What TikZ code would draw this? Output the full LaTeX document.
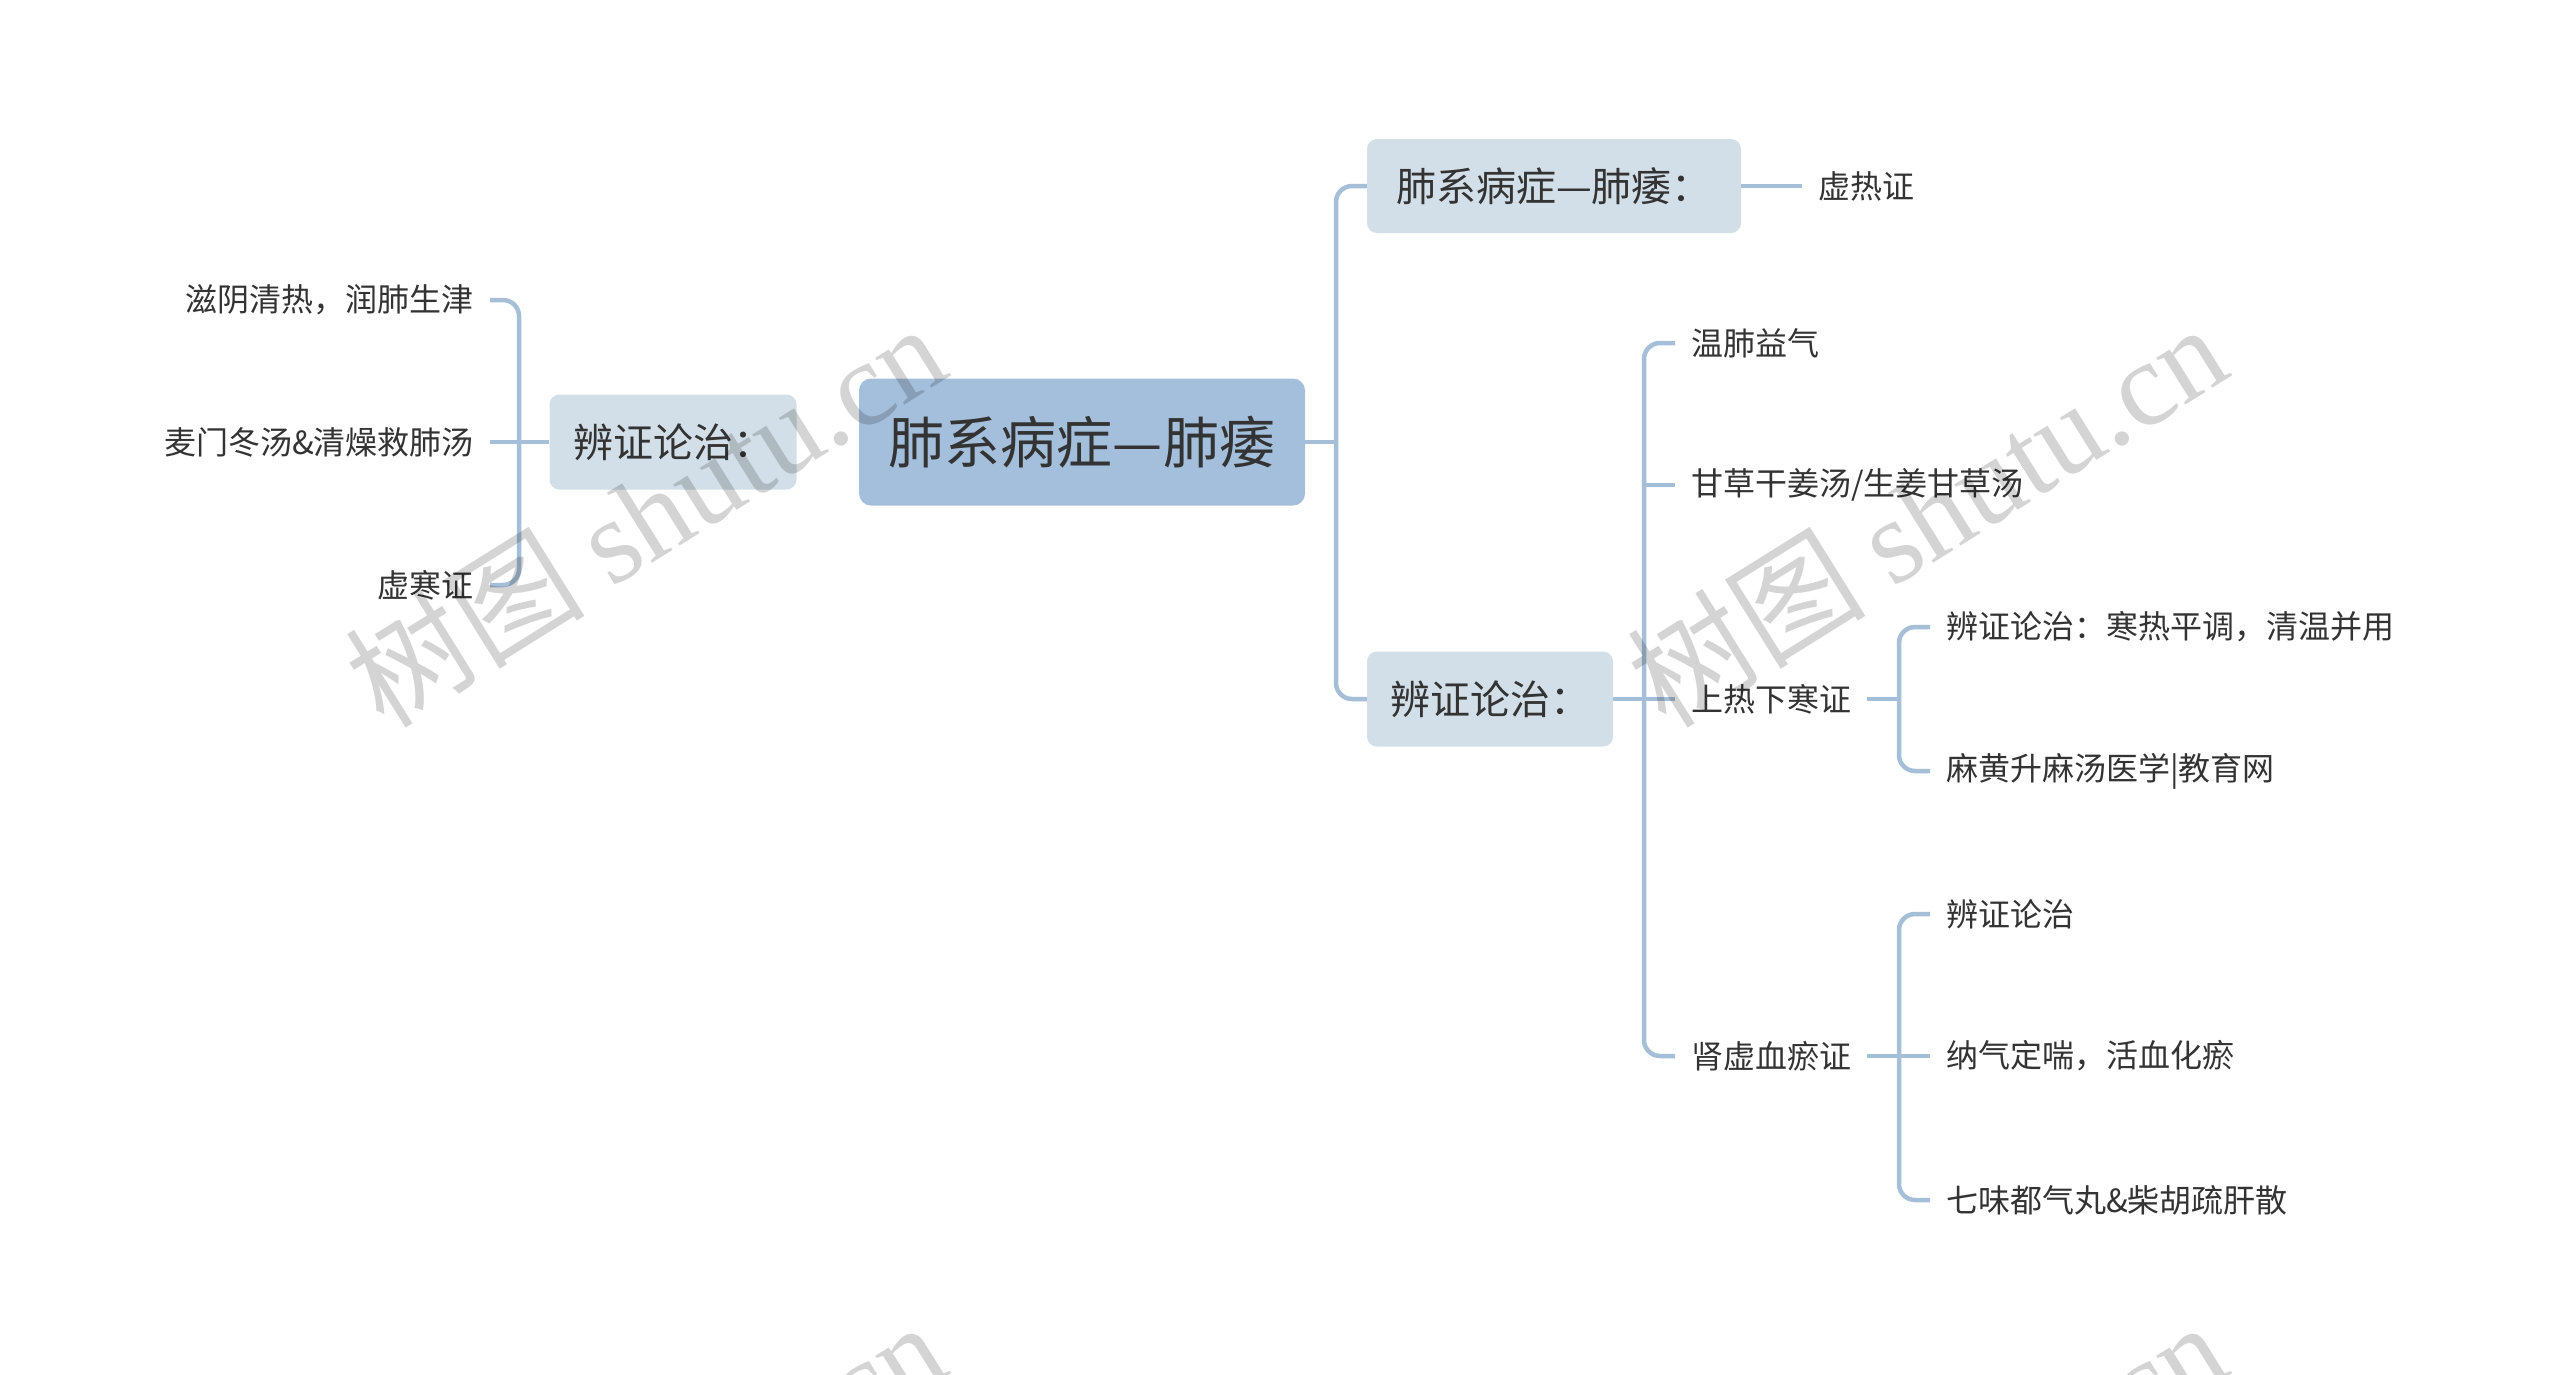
\documentclass[tikz,border=0pt]{standalone}
\usepackage{fontspec}
\setmainfont{Noto Sans CJK SC}
\newfontfamily\wmlatin{Liberation Serif}
\definecolor{linec}{HTML}{A6BFD8}
\definecolor{rootc}{HTML}{A3BFDB}
\definecolor{subc}{HTML}{D3DFE8}
\definecolor{txt}{HTML}{333333}
\begin{document}
\begin{tikzpicture}[x=1pt,y=-1pt,
 conn/.style={draw=linec,line width=4.5pt,rounded corners=16pt},
 rootbox/.style={fill=rootc,rounded corners=12pt,minimum width=446pt,minimum height=127pt,text=txt,font=\fontsize{56}{60}\selectfont,inner sep=0pt},
 subbox/.style={fill=subc,rounded corners=10pt,minimum height=95pt,text=txt,font=\fontsize{40}{44}\selectfont,inner sep=0pt},
 leaf/.style={text=txt,font=\fontsize{32}{36}\selectfont,inner xsep=16pt,inner ysep=4pt},
 wm/.style={rotate=32,text=black,text opacity=0.17,font=\fontsize{120}{125}\selectfont}]
\useasboundingbox (0,0) rectangle (2560,1374);
\fill[white] (0,0) rectangle (2560,1374);

% nodes
\node[rootbox] (root) at (1082,442) {肺系病症—肺痿};
\node[subbox,minimum width=247pt] (L1) at (673,442) {辨证论治：};
\node[subbox,minimum width=374pt,minimum height=94pt] (R1) at (1554,186) {肺系病症—肺痿：};
\node[subbox,minimum width=246pt] (R2) at (1490,699) {辨证论治：};

\node[leaf,anchor=east] (l1) at (490,300) {滋阴清热，润肺生津};
\node[leaf,anchor=east] (l2) at (490,442) {麦门冬汤\&清燥救肺汤};
\node[leaf,anchor=east] (l3) at (490,585) {虚寒证};

\node[leaf,anchor=west] (r1a) at (1802,186) {虚热证};

\node[leaf,anchor=west] (c1) at (1675,343) {温肺益气};
\node[leaf,anchor=west] (c2) at (1675,485) {甘草干姜汤/生姜甘草汤};
\node[leaf,anchor=west] (c3) at (1675,699) {上热下寒证};
\node[leaf,anchor=west] (c4) at (1675,1056) {肾虚血瘀证};

\node[leaf,anchor=west] (d1) at (1930,627) {辨证论治：寒热平调，清温并用};
\node[leaf,anchor=west] (d2) at (1930,771) {麻黄升麻汤医学|教育网};

\node[leaf,anchor=west] (e1) at (1930,914) {辨证论治};
\node[leaf,anchor=west] (e2) at (1930,1056) {纳气定喘，活血化瘀};
\node[leaf,anchor=west] (e3) at (1930,1200) {七味都气丸\&柴胡疏肝散};

% junction coordinates
\coordinate (b0) at (519,442);
\coordinate (b1) at (1336,442);
\coordinate (b2) at (1644,699);
\coordinate (b3) at (1899,699);
\coordinate (b4) at (1899,1056);

% left side
\draw[conn] (L1.west) -- (b0);
\draw[conn] (l1.east) -- (l1.east -| b0) -- (l3.east -| b0) -- (l3.east);
\draw[conn] (l2.east) -- (b0);

% root to right
\draw[conn] (root.east) -- (b1);
\draw[conn] (R1.west) -- (R1.west -| b1) -- (R2.west -| b1) -- (R2.west);
\draw[conn] (R1.east) -- (r1a.west);

% R2 bracket
\draw[conn] (R2.east) -- (b2);
\draw[conn] (c1.west) -- (c1.west -| b2) -- (c4.west -| b2) -- (c4.west);
\draw[conn] (c2.west -| b2) -- (c2.west);
\draw[conn] (b2) -- (c3.west);

% c3 bracket
\draw[conn] (c3.east) -- (b3);
\draw[conn] (d1.west) -- (d1.west -| b3) -- (d2.west -| b3) -- (d2.west);

% c4 bracket
\draw[conn] (c4.east) -- (b4);
\draw[conn] (e1.west) -- (e1.west -| b4) -- (e3.west -| b4) -- (e3.west);
\draw[conn] (b4) -- (e2.west);

% watermarks
\begin{scope}
\clip (0,0) rectangle (2560,1374);
\node[wm] (wm1) at (645,514) {树图 {\wmlatin shutu.cn}};
\node[wm] (wm2) at (1926,514) {树图 {\wmlatin shutu.cn}};
\node[wm] (wm3) at (645,1512) {树图 {\wmlatin shutu.cn}};
\node[wm] (wm4) at (1926,1512) {树图 {\wmlatin shutu.cn}};
\end{scope}
\end{tikzpicture}
\end{document}
